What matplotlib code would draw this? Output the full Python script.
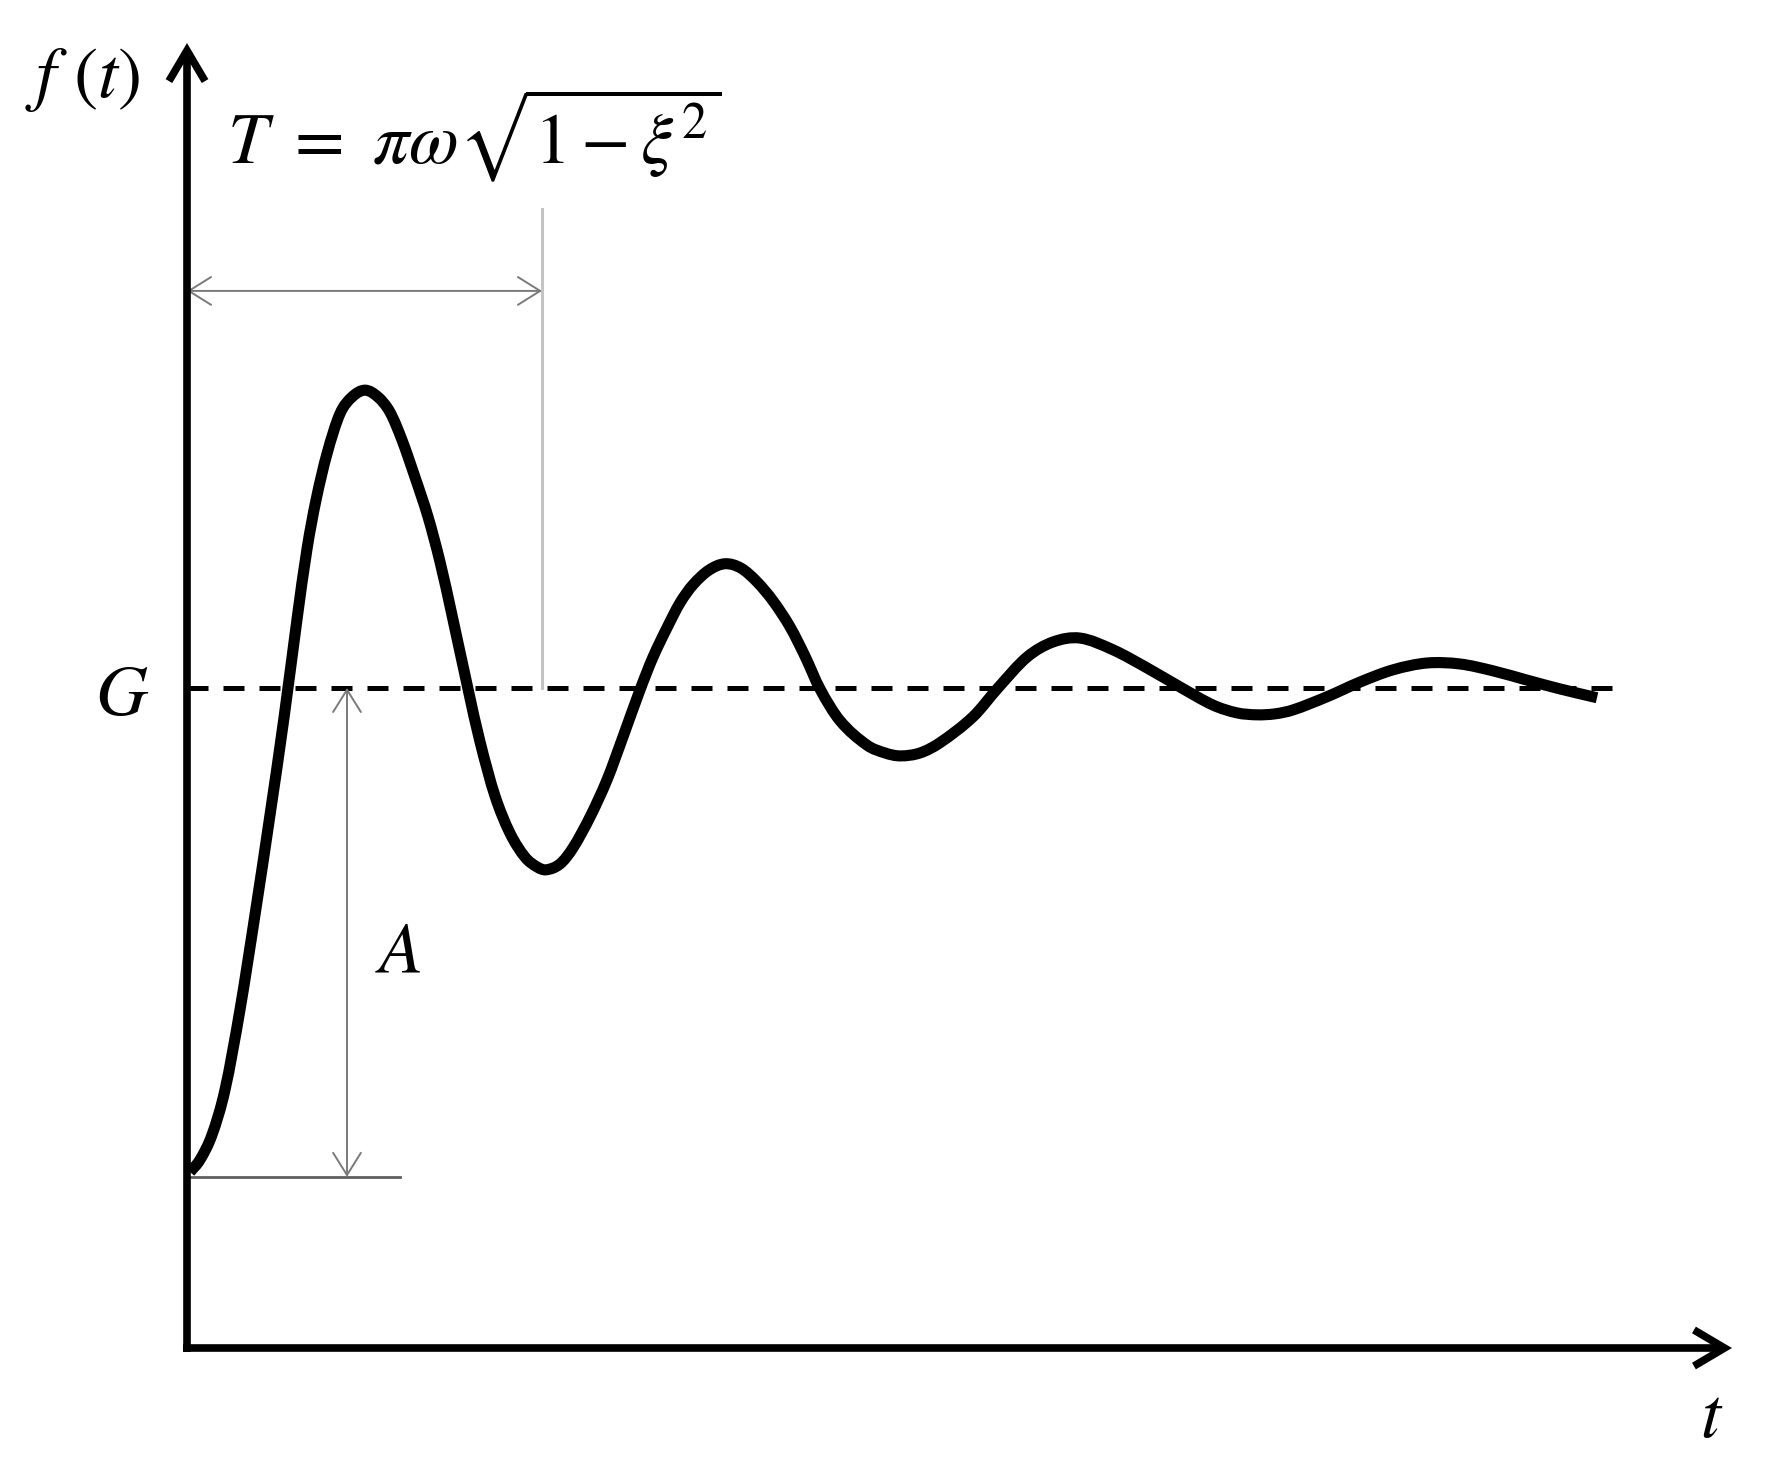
import matplotlib
matplotlib.use("Agg")
import matplotlib.pyplot as plt
from matplotlib.path import Path
from matplotlib.patches import PathPatch

plt.rcParams['mathtext.fontset'] = 'stix'

# ---- data (t in arbitrary time units, f normalised: start=0, G=1)
t_curve = [0.03, 0.13, 0.25, 0.38, 0.53, 0.68, 0.83, 0.97, 1.10, 1.20, 1.29, 1.40,
           1.53, 1.65, 1.78, 1.91, 2.03, 2.15, 2.28, 2.41, 2.53, 2.65, 2.81, 2.93,
           3.08, 3.23, 3.38, 3.50, 3.59, 3.73, 3.86, 4.03, 4.20, 4.36, 4.53, 4.66,
           4.80, 4.93, 5.06, 5.22, 5.38, 5.54, 5.70, 5.86, 6.03, 6.18, 6.33, 6.53,
           6.80, 6.98, 7.13, 7.33, 7.53, 7.86, 8.11, 8.40, 8.66, 8.93, 9.26, 9.60,
           9.93, 10.26, 10.50, 10.70, 10.88, 11.06, 11.40, 11.73, 12.06, 12.40,
           12.73, 13.06, 13.40, 13.73, 14.10]
f_curve = [0.010, 0.035, 0.086, 0.178, 0.342, 0.536, 0.740, 0.939, 1.140, 1.284,
           1.384, 1.479, 1.561, 1.595, 1.609, 1.595, 1.564, 1.507, 1.431, 1.350,
           1.258, 1.149, 0.998, 0.890, 0.779, 0.703, 0.654, 0.634, 0.628, 0.640,
           0.673, 0.736, 0.812, 0.900, 0.996, 1.063, 1.123, 1.174, 1.211, 1.241,
           1.254, 1.245, 1.217, 1.178, 1.125, 1.065, 0.998, 0.933, 0.883, 0.867,
           0.861, 0.867, 0.888, 0.941, 1.000, 1.063, 1.094, 1.102, 1.078, 1.041,
           1.002, 0.965, 0.949, 0.945, 0.947, 0.955, 0.982, 1.012, 1.037, 1.051,
           1.049, 1.035, 1.016, 0.998, 0.980]

G_level = 1.0
A_base = 0.0
G_end = 14.38          # end of dashed steady-state line
A_pos = 1.60           # position of amplitude arrow
A_base_end = 2.13      # end of base line
T_end = 3.55           # half period marker
T_arrow_level = 1.812
T_line_top = 1.980

x_axis_level = -0.35
x_axis_end = 15.45
y_axis_top = 2.319

labels = {
    'f': r'$f\ (t)$',
    'T': r'$T\ =\ \pi\omega\sqrt{1 - \xi^{2}}$',
    'G': r'$G$',
    'A': r'$A$',
    't': r'$t$',
}

# ---- figure
fig = plt.figure(figsize=(17.71, 14.81), dpi=100)
ax = fig.add_axes([0, 0, 1, 1])
ax.set_xlim(-1.87, 15.84)
ax.set_ylim(-0.622, 2.407)
ax.axis('off')

# steady-state dashed line
ax.plot([0, G_end], [G_level, G_level], color='black', lw=3.6,
        dashes=(4.2, 3.0), solid_capstyle='butt', dash_capstyle='butt', zorder=2)

# base line of amplitude
ax.plot([0, A_base_end], [A_base, A_base], color='#5f5f5f', lw=2.0, zorder=2)

# vertical half-period marker
ax.plot([T_end, T_end], [G_level, T_line_top], color='#c4c4c4', lw=2.2, zorder=1)

thin = dict(arrowstyle='<->,head_length=16,head_width=10', color='#7a7a7a',
            lw=1.4, shrinkA=0, shrinkB=0, mutation_scale=1)
ax.annotate('', xy=(A_pos, G_level), xytext=(A_pos, A_base), arrowprops=thin, zorder=2)
ax.annotate('', xy=(T_end, T_arrow_level), xytext=(0, T_arrow_level), arrowprops=thin, zorder=2)

# the response curve: smooth cubic Hermite path (in t) through the read points
n = len(t_curve)
slopes = []
for i in range(n):
    a = max(i - 1, 0)
    b = min(i + 1, n - 1)
    slopes.append((f_curve[b] - f_curve[a]) / (t_curve[b] - t_curve[a]))
verts = [(t_curve[0], f_curve[0])]
codes = [Path.MOVETO]
for i in range(n - 1):
    h = t_curve[i + 1] - t_curve[i]
    c1 = (t_curve[i] + h / 3.0, f_curve[i] + slopes[i] * h / 3.0)
    c2 = (t_curve[i + 1] - h / 3.0, f_curve[i + 1] - slopes[i + 1] * h / 3.0)
    verts += [c1, c2, (t_curve[i + 1], f_curve[i + 1])]
    codes += [Path.CURVE4, Path.CURVE4, Path.CURVE4]
curve = PathPatch(Path(verts, codes), facecolor='none', edgecolor='black',
                  lw=8.0, joinstyle='round', capstyle='butt', zorder=3)
ax.add_patch(curve)

# axes with arrows
thick = dict(arrowstyle='->,head_length=22,head_width=13', color='black',
             lw=5.5, shrinkA=0, shrinkB=0, mutation_scale=1, joinstyle='miter',
             capstyle='butt')
ax.annotate('', xy=(x_axis_end, x_axis_level), xytext=(-0.04, x_axis_level),
            arrowprops=thick, zorder=4)
ax.annotate('', xy=(0, y_axis_top), xytext=(0, x_axis_level - 0.008),
            arrowprops=thick, zorder=4)

# texts
fs = 52
ax.text(-1.05, 2.245, labels['f'], fontsize=fs, ha='center', va='center')
ax.text(0.40, 2.072, labels['T'], fontsize=fs, ha='left', va='baseline')
ax.text(-0.65, 0.985, labels['G'], fontsize=fs, ha='center', va='center')
ax.text(2.11, 0.458, labels['A'], fontsize=fs, ha='center', va='center')
ax.text(15.25, -0.493, labels['t'], fontsize=fs, ha='center', va='center')

fig.savefig('out.png', dpi=100, facecolor='white')
